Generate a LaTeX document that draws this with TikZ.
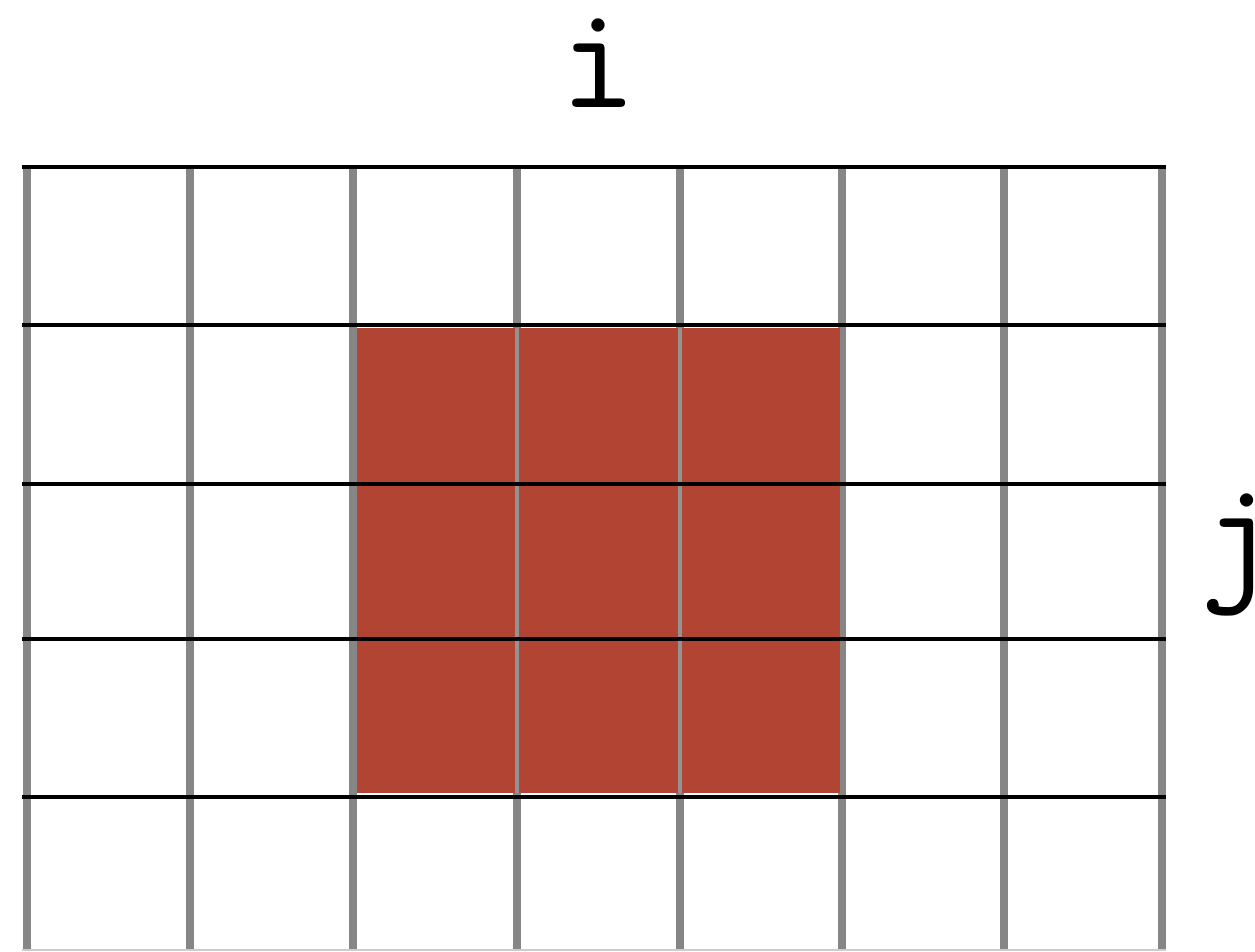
\documentclass[tikz,border=0pt]{standalone}
\usepackage{fontspec}
\usepackage{tikz}

\definecolor{cellred}{RGB}{178,68,52}

\begin{document}
\begin{tikzpicture}[x=0.02cm, y=-0.02cm,
    axislbl/.style={font=\ttfamily\fontsize{84}{90}\selectfont, anchor=base, inner sep=0pt}]
  \useasboundingbox (0,0) rectangle (1255,951);
  % columns
  \foreach \x in {27,190,353,517,680,842,1004,1162}
    \draw[gray!95, line width=8*0.5669pt] (\x,167) -- (\x,951);
  % the 3x3 block
  \fill[cellred] (357,328) rectangle (840,793);
  \foreach \x in {517,680}
    \draw[gray!85, line width=2.2pt] (\x,328) -- (\x,793);
  % rows
  \foreach \y in {167,325,484,639,797}
    \draw[black, line width=2.3pt] (22,\y) -- (1166,\y);
  \draw[gray!40, line width=0.6pt] (22,950) -- (1166,950);
  \node[axislbl] (ilbl) at (598,107) {i};
  \node[axislbl] (jlbl) at (1238,582) {j};
\end{tikzpicture}
\end{document}
